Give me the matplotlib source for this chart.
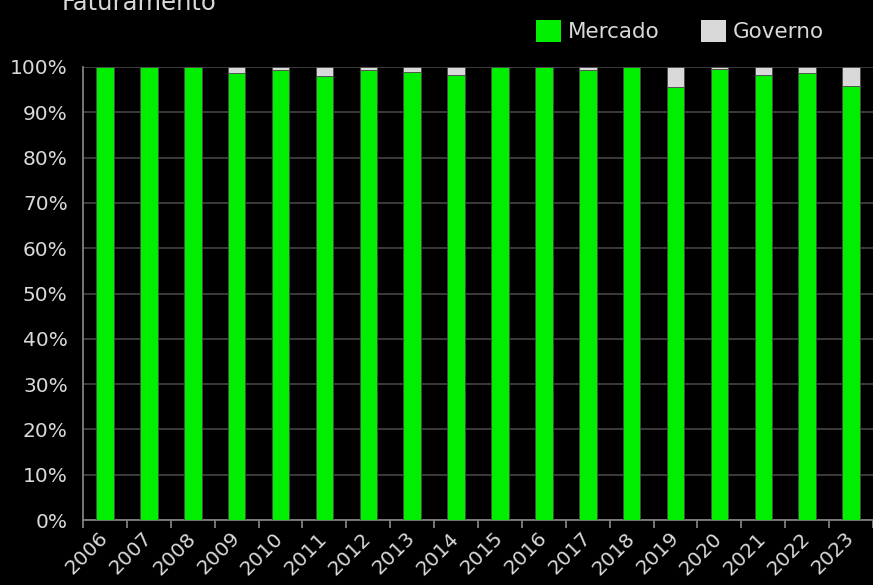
import matplotlib
matplotlib.use("Agg")
import matplotlib.pyplot as plt
import numpy as np
from matplotlib.ticker import FuncFormatter, FixedLocator

years = ["2006", "2007", "2008", "2009", "2010", "2011", "2012", "2013", "2014",
         "2015", "2016", "2017", "2018", "2019", "2020", "2021", "2022", "2023"]
governo = [0.0, 0.0, 0.0, 1.3, 0.6, 2.0, 0.7, 1.2, 1.8,
           0.0, 0.0, 0.7, 0.0, 4.5, 0.4, 1.8, 1.3, 4.3]
mercado = [100 - g for g in governo]

plt.rcParams['font.family'] = ['DejaVu Sans']
fig = plt.figure(figsize=(8.73, 5.85), dpi=100, facecolor='black')
ax = fig.add_axes([83/873, 1 - 520/585, 1 - 83/873, (520 - 67)/585])
ax.set_facecolor('black')

x = np.arange(len(years))
m = np.array(mercado) / 100
g = np.array(governo) / 100
ax.bar(x, m, width=0.4, color='#00ee00', edgecolor='#4a4a4a', linewidth=0.6,
       label='Mercado', zorder=3)
ax.bar(x, g, width=0.4, bottom=m, color='#d9d9d9', edgecolor='#4a4a4a',
       linewidth=0.6, label='Governo', zorder=3)

ax.set_xlim(-0.5, len(years) - 0.5)
ax.set_ylim(0, 1)
ax.set_yticks(np.arange(0, 1.01, 0.1))
ax.yaxis.set_major_formatter(FuncFormatter(lambda v, p: f"{v*100:.0f}%"))
ax.grid(axis='y', color='#404040', linewidth=1.3, zorder=0)
ax.tick_params(axis='y', length=0, pad=11, labelsize=14.5, labelcolor='#d9d9d9')

ax.set_xticks(x)
ax.set_xticklabels(years, rotation=45, ha='right', va='center',
                   rotation_mode='anchor', fontsize=14.5, color='#d9d9d9')
ax.tick_params(axis='x', which='major', length=0, pad=11)
ax.xaxis.set_minor_locator(FixedLocator(np.arange(-0.5, len(years), 1.0)))
ax.tick_params(axis='x', which='minor', length=6, color='#808080', width=1.3)

for side in ['top', 'right']:
    ax.spines[side].set_visible(False)
for side in ['left', 'bottom']:
    ax.spines[side].set_color('#808080')
    ax.spines[side].set_linewidth(1.3)

leg = fig.legend(loc='upper left', bbox_to_anchor=(517/873, 1 - 1/585), ncol=2,
                 frameon=False, fontsize=15.5, handlelength=1.15, handleheight=1.15,
                 handletextpad=0.3, columnspacing=1.95, labelcolor='#d9d9d9')
for h in leg.legend_handles:
    h.set_edgecolor('none')

fig.text(62/873, 1 - 10/585, "Faturamento", color='#d9d9d9', fontsize=17.5,
         ha='left', va='baseline')

fig.savefig("out.png", dpi=100, facecolor='black')
